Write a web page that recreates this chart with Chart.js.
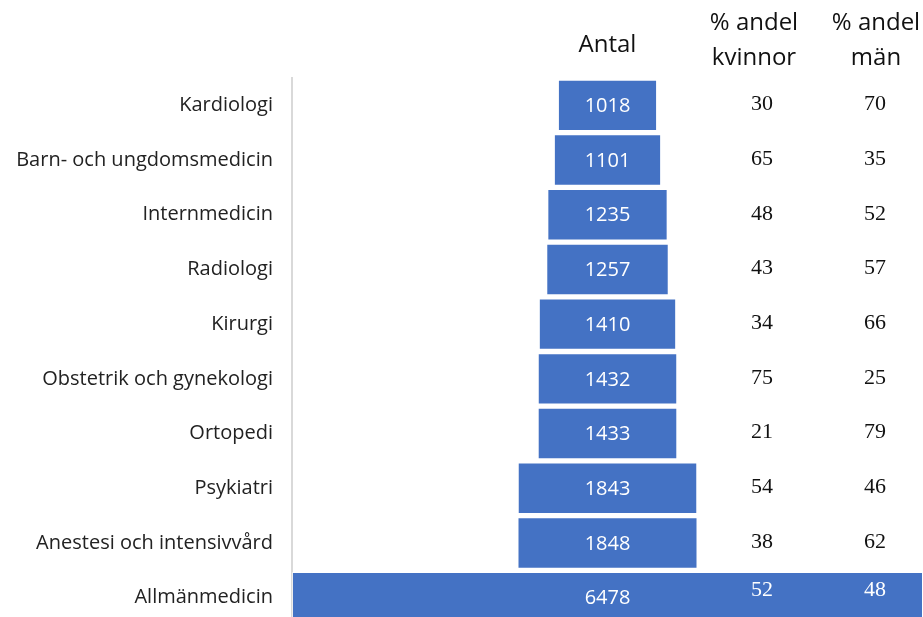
<!DOCTYPE html>
<html>
<head>
<meta charset="utf-8">
<script src="https://cdn.jsdelivr.net/npm/chart.js@4.4.0/dist/chart.umd.min.js"></script>
<style>
    html, body { margin: 0; padding: 0; background: #fff; overflow: hidden; }
    #funnelChart { display: block; }
</style>
</head>
<body>
<canvas id="funnelChart" width="923" height="648"></canvas>
<script>
// data
const specialties = ["Kardiologi", "Barn- och ungdomsmedicin", "Internmedicin", "Radiologi", "Kirurgi",
    "Obstetrik och gynekologi", "Ortopedi", "Psykiatri", "Anestesi och intensivvård", "Allmänmedicin"];
const counts = [1018, 1101, 1235, 1257, 1410, 1432, 1433, 1843, 1848, 6478];
const shareWomen = [30, 65, 48, 43, 34, 75, 21, 54, 38, 52];
const shareMen = [70, 35, 52, 57, 66, 25, 79, 46, 62, 48];

const maxCount = Math.max(...counts);

// bars centred on zero
const floatBars = counts.map(v => [-v / 2, v / 2]);

const tablePlugin = {
    id: "tableText",
    afterDatasetsDraw(chart){
        const ctx = chart.ctx;
        const yScale = chart.scales.y;
        const xScale = chart.scales.x;
        const meta = chart.getDatasetMeta(0);

        ctx.save();
        ctx.textAlign = "center";
        ctx.textBaseline = "middle";

        // values inside bars
        ctx.fillStyle = "#ffffff";
        ctx.font = "20px 'Open Sans'";
        meta.data.forEach((bar, i) => {
            ctx.fillText(String(counts[i]), xScale.getPixelForValue(0), bar.y + 1);
        });

        // percentage columns
        const colW = 762;
        const colM = 875;
        ctx.font = "22px 'Liberation Serif'";
        specialties.forEach((s, i) => {
            const y = yScale.getPixelForValue(i);
            const inBar = counts[i] === maxCount;
            ctx.fillStyle = inBar ? "#ffffff" : "#111111";
            ctx.fillText(String(shareWomen[i]), colW, y - (inBar ? 7 : 1));
            ctx.fillText(String(shareMen[i]), colM, y - (inBar ? 7 : 1));
        });

        // headers
        ctx.fillStyle = "#111111";
        ctx.font = "24px 'Open Sans'";
        ctx.fillText("Antal", xScale.getPixelForValue(0), 45);
        ctx.fillText("% andel", 754, 23);
        ctx.fillText("kvinnor", 754, 58);
        ctx.fillText("% andel", 876, 23);
        ctx.fillText("män", 876, 58);
        ctx.restore();
    }
};

new Chart("funnelChart", {
    type: "bar",
    data: {
        labels: specialties,
        datasets: [{
            data: floatBars,
            backgroundColor: "#4472c4",
            borderColor: "rgba(255,255,255,0.55)",
            borderWidth: 1,
            borderSkipped: false,
            categoryPercentage: 1,
            barPercentage: 0.94
        }]
    },
    options: {
        indexAxis: "y",
        responsive: false,
        animation: false,
        layout: { padding: { top: 78, right: 0, bottom: 0, left: 0 } },
        plugins: {
            legend: { display: false },
            tooltip: { enabled: false }
        },
        scales: {
            x: {
                display: false,
                min: -maxCount / 2,
                max: maxCount / 2
            },
            y: {
                grid: { display: false },
                border: { display: true, color: "#d9d9d9", width: 2 },
                afterFit(scale){ scale.width = 292; },
                ticks: {
                    color: "#222222",
                    padding: 11,
                    font: { family: "'Open Sans'", size: 20 }
                }
            }
        }
    },
    plugins: [tablePlugin]
});
</script>
</body>
</html>
